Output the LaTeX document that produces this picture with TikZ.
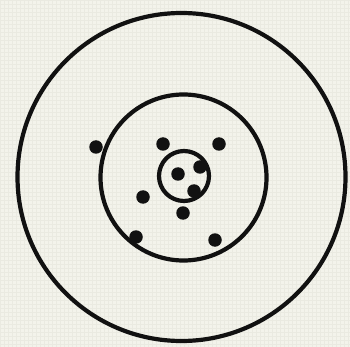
\documentclass[tikz,border=0pt]{standalone}
\definecolor{paper}{HTML}{F3F3EB}
\definecolor{gridc}{HTML}{EAEAE1}
\definecolor{ink}{HTML}{111111}
\begin{document}
\begin{tikzpicture}[x=1pt,y=-1pt,
  ring/.style={draw=ink,line width=4.2pt},
  dot/.style={circle,fill=ink,inner sep=0pt,minimum size=13.5pt}]
\fill[paper] (0,0) rectangle (350,347);
\useasboundingbox (0,0) rectangle (350,347);
\draw[gridc,line width=0.4pt,step=4pt] (0,0) grid (350,347);
\draw[ring] (181.5,177) circle[radius=164];
\draw[ring] (183.5,177.5) circle[radius=83];
\draw[ring] (184,176) circle[radius=25];
\node[dot] (d1) at (96,147) {};
\node[dot] (d2) at (163,144) {};
\node[dot] (d3) at (219,144) {};
\node[dot] (d4) at (178,174) {};
\node[dot] (d5) at (200,167) {};
\node[dot] (d6) at (194,191) {};
\node[dot] (d7) at (143,197) {};
\node[dot] (d8) at (183,213) {};
\node[dot] (d9) at (136,237) {};
\node[dot] (d10) at (215,240) {};
\end{tikzpicture}
\end{document}
